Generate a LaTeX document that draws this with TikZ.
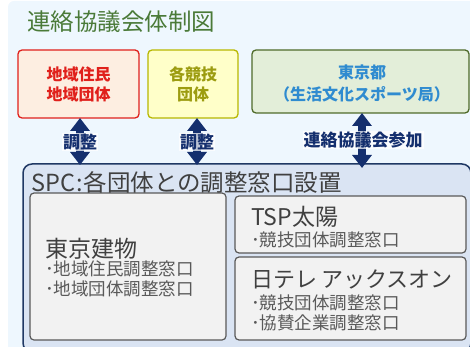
\documentclass[tikz,border=0pt]{standalone}
\usepackage{fontspec}
\setmainfont{Noto Sans CJK JP}
\usetikzlibrary{arrows.meta}
\definecolor{bgblue}{HTML}{EEF7FE}
\definecolor{titlegreen}{HTML}{4A7A38}
\definecolor{redtxt}{HTML}{E0201B}
\definecolor{redfill}{HTML}{FDEEE1}
\definecolor{yelfill}{HTML}{FFFFC9}
\definecolor{yeldraw}{HTML}{B8B800}
\definecolor{yeltxt}{HTML}{9C9C10}
\definecolor{grnfill}{HTML}{E3EED9}
\definecolor{grndraw}{HTML}{4F6B2A}
\definecolor{bluetxt}{HTML}{2F8BD0}
\definecolor{navy}{HTML}{142F6E}
\definecolor{spcfill}{HTML}{DAE4F3}
\definecolor{spcdraw}{HTML}{1F3864}
\definecolor{graybox}{HTML}{F2F2F2}
\definecolor{graydraw}{HTML}{595959}
\definecolor{darktxt}{HTML}{404040}
\tikzset{
  topbox/.style={rounded corners=4pt, line width=1.3pt},
  boxtxt/.style={align=center, font=\fontsize{16}{20}\selectfont\bfseries, inner sep=0pt},
  dblarrow/.style={navy, line width=8pt, {Triangle[width=19pt,length=13pt]}-{Triangle[width=19pt,length=13pt]}},
  arrlabel/.style={font=\fontsize{17}{20}\selectfont\bfseries, text=navy, inner xsep=1pt, inner ysep=0.5pt, fill=white, fill opacity=0.72, text opacity=1},
  graybx/.style={rounded corners=4pt, fill=graybox, draw=graydraw, line width=1.2pt},
  bigname/.style={font=\fontsize{23}{26}\selectfont, text=darktxt, anchor=west, inner sep=0pt},
  bullet/.style={font=\fontsize{17.5}{20}\selectfont, text=graydraw, anchor=west, inner sep=0pt, align=left},
}
\begin{document}
\begin{tikzpicture}[x=1pt,y=-1pt]
\useasboundingbox (0,0) rectangle (470,347);
\clip (0,0) rectangle (470,347);
\fill[bgblue, rounded corners=6pt] (8,1) rectangle (490,370);
\node[anchor=west, inner sep=0pt, text=titlegreen, font=\fontsize{23.5}{26}\selectfont] (title) at (27,22) {連絡協議会体制図};
% top boxes
\draw[topbox, fill=redfill, draw=redtxt] (18,50) rectangle (139,118);
\node[boxtxt, text=redtxt] (local) at (78.5,84) {地域住民\\地域団体};
\draw[topbox, fill=yelfill, draw=yeldraw] (148,50) rectangle (238,118);
\node[boxtxt, text=yeltxt] (sports) at (193,84) {各競技\\団体};
\draw[topbox, fill=grnfill, draw=grndraw] (252,50) rectangle (469,113);
\node[boxtxt, text=bluetxt, font=\fontsize{16}{22}\selectfont\bfseries] (tokyo) at (362,83) {東京都\\（生活文化スポーツ局）};
% SPC box
\draw[rounded corners=9pt, fill=spcfill, draw=spcdraw, line width=1.5pt] (23,164) rectangle (471,352);
\node[anchor=west, inner sep=0pt, text=darktxt, font=\fontsize{23.5}{26}\selectfont] (spc) at (31,183) {SPC\kern1pt:\kern1pt各団体との調整窓口設置};
% arrows
\coordinate (a1t) at (80,118); \coordinate (a1b) at (80,165);
\coordinate (a2t) at (197,118); \coordinate (a2b) at (197,165);
\coordinate (a3t) at (362,113); \coordinate (a3b) at (362,168);
\draw[dblarrow] (a1t) -- (a1b);
\draw[dblarrow] (a2t) -- (a2b);
\draw[dblarrow] (a3t) -- (a3b);
\node[arrlabel] (l1) at (80,142) {調整};
\node[arrlabel] (l2) at (197,142) {調整};
\node[arrlabel] (l3) at (363,140) {連絡協議会参加};
% inner boxes
\draw[graybx] (30,193) rectangle (226,340);
\node[bigname] (tt) at (45,249) {東京建物};
\node[bullet] (ttb) at (45,279) {･地域住民調整窓口\\･地域団体調整窓口};
\draw[graybx] (235,196) rectangle (466,253);
\node[bigname] (tsp) at (251,217) {TSP太陽};
\node[bullet] (tspb) at (251,240) {･競技団体調整窓口};
\draw[graybx] (235,257) rectangle (466,340);
\node[bigname, font=\fontsize{22}{26}\selectfont] (ntv) at (251,279) {日テレ\hspace{4pt}アックスオン};
\node[bullet] (ntvb) at (251,313) {･競技団体調整窓口\\･協賛企業調整窓口};
\end{tikzpicture}
\end{document}
